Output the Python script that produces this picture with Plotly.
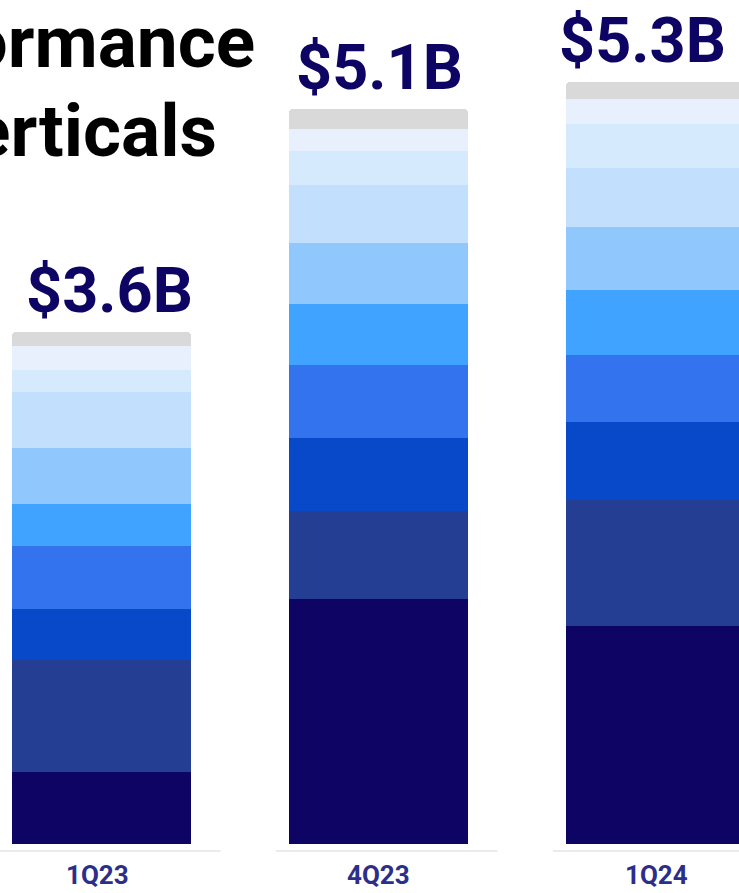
import plotly.graph_objects as go

# Quarterly revenue by vertical, $B (bottom segment first)
quarters = ["1Q23", "4Q23", "1Q24"]
seg_1 = [0.50, 1.71, 1.52]
seg_2 = [0.78, 0.61, 0.88]
seg_3 = [0.36, 0.51, 0.54]
seg_4 = [0.44, 0.51, 0.47]
seg_5 = [0.29, 0.42, 0.45]
seg_6 = [0.39, 0.43, 0.44]
seg_7 = [0.39, 0.40, 0.41]
seg_8 = [0.15, 0.24, 0.31]
seg_9 = [0.17, 0.15, 0.17]
seg_other = [0.10, 0.14, 0.12]

segments = [seg_1, seg_2, seg_3, seg_4, seg_5, seg_6, seg_7, seg_8, seg_9, seg_other]
colors = ["#0d0463", "#233e93", "#0749c8", "#3373ee", "#3fa3ff",
          "#90c8fd", "#c2e0fd", "#d6eafd", "#e8f0fd", "#d9d9d9"]

W, H = 739, 893
px_per_unit_x = 277.0
px_per_b = 143.5
base_px = 844.0
first_center_px = 101.5

x_idx = list(range(len(quarters)))
fig = go.Figure()
for k, (vals, col) in enumerate(zip(segments, colors)):
    fig.add_trace(go.Bar(
        x=x_idx, y=vals, name=f"Segment {k + 1}",
        marker=dict(color=col, line=dict(width=0)),
        width=179 / px_per_unit_x, showlegend=False, hoverinfo="skip",
    ))

totals = [sum(s[i] for s in segments) for i in x_idx]

annotations = []
total_xshift = [8, 0.5, -13]
for i, t in enumerate(totals):
    annotations.append(dict(
        x=i, y=t, xref="x", yref="y", text=f"${t:.1f}B", showarrow=False,
        xanchor="center", yanchor="bottom", yshift=3, xshift=total_xshift[i],
        font=dict(family="Roboto", size=63, color="#0d0463", weight=700),
    ))

label_xshift = [-4, 0, 1]
for i, q in enumerate(quarters):
    annotations.append(dict(
        x=i, y=-(892 - base_px) / px_per_b, xref="x", yref="y", text=q,
        showarrow=False, xanchor="center", yanchor="bottom", xshift=label_xshift[i],
        font=dict(family="Roboto", size=26, color="#2b2f8a", weight=700),
    ))

# Heading, left part runs off the page
annotations.append(dict(
    x=257 / W, y=1 - 87 / H, xref="paper", yref="paper", text="Performance",
    showarrow=False, xanchor="right", yanchor="bottom",
    font=dict(family="Roboto", size=73, color="#000000", weight=700),
))
annotations.append(dict(
    x=219 / W, y=1 - 176 / H, xref="paper", yref="paper", text="Verticals",
    showarrow=False, xanchor="right", yanchor="bottom",
    font=dict(family="Roboto", size=73, color="#000000", weight=700),
))

# Light baseline strip under each column
shapes = []
strip_y = -(851 - base_px) / px_per_b
for i in x_idx:
    shapes.append(dict(
        type="line", xref="x", yref="y", x0=i - 0.37, x1=i + 0.43,
        y0=strip_y, y1=strip_y, line=dict(color="#ebebeb", width=2), layer="below",
    ))

fig.update_layout(
    width=W, height=H, margin=dict(l=0, r=0, t=0, b=0),
    barmode="stack", bargap=0, barcornerradius=4,
    paper_bgcolor="#ffffff", plot_bgcolor="#ffffff",
    xaxis=dict(range=[-first_center_px / px_per_unit_x, (W - first_center_px) / px_per_unit_x],
               visible=False, fixedrange=True),
    yaxis=dict(range=[-(H - base_px) / px_per_b, base_px / px_per_b],
               visible=False, fixedrange=True),
    annotations=annotations, shapes=shapes,
)

fig.write_html("out.html")
